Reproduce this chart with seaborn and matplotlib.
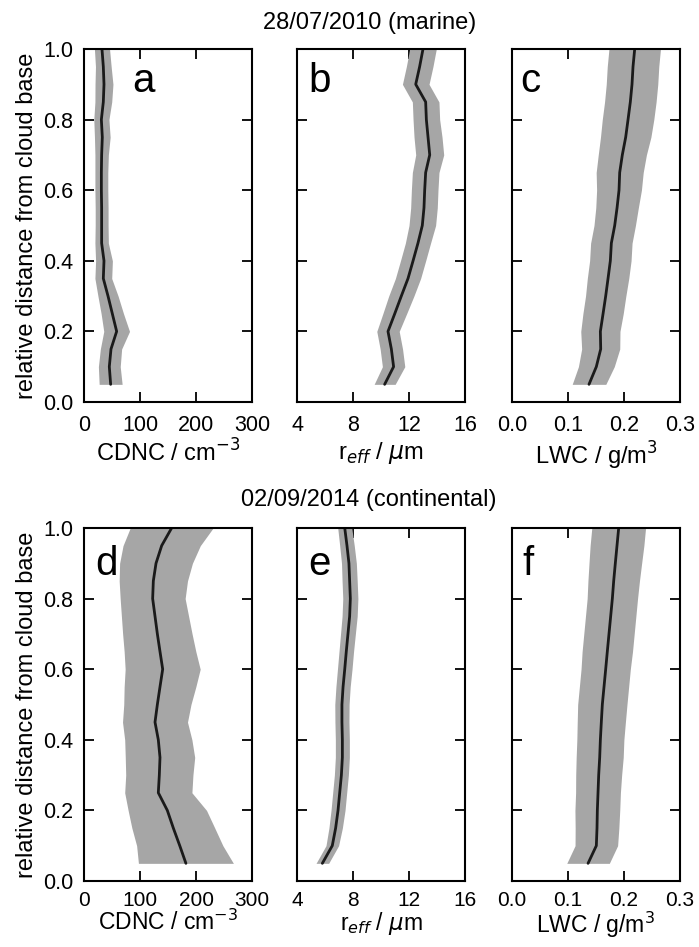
import numpy as np
import pandas as pd
import matplotlib
matplotlib.use("Agg")
import matplotlib.pyplot as plt
import seaborn as sns

# ---------------- data ----------------
height = [0.05, 0.10, 0.15, 0.20, 0.25, 0.30, 0.35, 0.40, 0.45, 0.50,
          0.55, 0.60, 0.65, 0.70, 0.75, 0.80, 0.85, 0.90, 0.95, 1.00]

# 28/07/2010 (marine)
cdnc_marine = [47.6, 45.2, 48.2, 58.3, 50.6, 42.9, 34.5, 35.7, 31.5, 31.5,
               31.5, 31.0, 31.0, 31.5, 32.7, 31.0, 34.5, 35.7, 34.5, 32.1]
cdnc_marine_sd = [20.5, 19.5, 19.0, 23.0, 20.0, 18.0, 15.0, 15.0, 12.0, 11.5,
                  11.5, 11.5, 11.5, 12.0, 14.0, 13.5, 15.0, 16.0, 14.0, 13.5]
reff_marine = [10.26, 10.90, 10.74, 10.50, 10.98, 11.45, 11.93, 12.29, 12.64, 12.95,
               13.07, 13.12, 13.19, 13.48, 13.36, 13.24, 13.19, 12.48, 12.76, 13.00]
reff_marine_sd = [0.75, 0.80, 0.80, 0.80, 0.85, 0.90, 0.90, 0.90, 0.90, 0.95,
                  0.95, 0.95, 0.95, 1.00, 1.00, 0.95, 0.95, 0.95, 0.95, 0.95]
lwc_marine = [0.1375, 0.1506, 0.1584, 0.1578, 0.1626, 0.1673, 0.1715, 0.1756, 0.1774, 0.1834,
              0.1876, 0.1911, 0.1923, 0.1970, 0.2030, 0.2072, 0.2113, 0.2143, 0.2161, 0.2191]
lwc_marine_sd = [0.030, 0.032, 0.034, 0.035, 0.036, 0.036, 0.037, 0.037, 0.037, 0.037,
                 0.038, 0.040, 0.042, 0.043, 0.045, 0.046, 0.046, 0.046, 0.046, 0.046]

# 02/09/2014 (continental)
cdnc_cont = [182.0, 171.0, 159.5, 148.8, 132.7, 134.5, 135.7, 132.7, 126.8, 131.0,
             135.7, 140.5, 135.7, 131.0, 126.8, 122.6, 123.8, 128.6, 138.7, 156.5]
cdnc_cont_sd = [84.8, 77.0, 74.0, 70.0, 60.0, 60.0, 62.0, 60.0, 58.0, 60.0,
                64.0, 67.0, 64.0, 62.0, 60.0, 58.0, 61.0, 65.0, 69.0, 74.0]
reff_cont = [5.81, 6.52, 6.76, 6.93, 7.05, 7.17, 7.24, 7.24, 7.21, 7.21,
             7.29, 7.41, 7.52, 7.64, 7.76, 7.81, 7.76, 7.71, 7.57, 7.41]
reff_cont_sd = [0.45, 0.45, 0.48, 0.50, 0.50, 0.50, 0.50, 0.50, 0.50, 0.51,
                0.51, 0.52, 0.52, 0.53, 0.54, 0.54, 0.54, 0.53, 0.52, 0.50]
lwc_cont = [0.1358, 0.1506, 0.1518, 0.1524, 0.1536, 0.1548, 0.1566, 0.1578, 0.1595, 0.1613,
            0.1643, 0.1673, 0.1702, 0.1732, 0.1762, 0.1792, 0.1816, 0.1845, 0.1875, 0.1905]
lwc_cont_sd = [0.038, 0.038, 0.039, 0.040, 0.040, 0.041, 0.042, 0.042, 0.043, 0.044,
               0.044, 0.044, 0.045, 0.045, 0.045, 0.045, 0.046, 0.047, 0.048, 0.048]

row_titles = ["28/07/2010 (marine)", "02/09/2014 (continental)"]
panel_letters = [["a", "b", "c"], ["d", "e", "f"]]
x_labels = ["CDNC / cm$^{-3}$", "r$_{eff}$ / $\\mu$m", "LWC / g/m$^3$"]
x_limits = [(0, 300), (4, 16), (0.0, 0.3)]
x_ticks = [[0, 100, 200, 300], [4, 8, 12, 16], [0.0, 0.1, 0.2, 0.3]]
x_ticklabels = [["0", "100", "200", "300"], ["4", "8", "12", "16"],
                ["0.0", "0.1", "0.2", "0.3"]]
y_ticks = [0.0, 0.2, 0.4, 0.6, 0.8, 1.0]
y_ticklabels = ["0.0", "0.2", "0.4", "0.6", "0.8", "1.0"]
y_label = "relative distance from cloud base"

means = [[cdnc_marine, reff_marine, lwc_marine], [cdnc_cont, reff_cont, lwc_cont]]
sds = [[cdnc_marine_sd, reff_marine_sd, lwc_marine_sd],
       [cdnc_cont_sd, reff_cont_sd, lwc_cont_sd]]

# ---------------- style ----------------
sns.set_style("ticks")
plt.rcParams["font.family"] = ["Liberation Sans", "DejaVu Sans"]
plt.rcParams["mathtext.fontset"] = "dejavusans"
plt.rcParams["axes.linewidth"] = 1.5
plt.rcParams["text.color"] = "black"
plt.rcParams["axes.labelcolor"] = "black"
plt.rcParams["xtick.color"] = "black"
plt.rcParams["ytick.color"] = "black"
plt.rcParams["axes.edgecolor"] = "black"

fig = plt.figure(figsize=(6.99, 9.47), dpi=100)
W, H = 699.0, 947.0
lefts = [84, 297, 512]
tops = [49, 528]
aw, ah = 168, 353

letter_x = [[0.29, 0.065, 0.05], [0.065, 0.065, 0.06]]
letter_y = [0.878, 0.867]

tick_fs = [15.5, 15]
label_fs = [17, 16.5]
tick_pad = [9, 7]
label_pad = [3, 0]
for r in range(2):
    for c in range(3):
        ax = fig.add_axes([lefts[c] / W, 1 - (tops[r] + ah) / H, aw / W, ah / H])
        df = pd.DataFrame({"value": means[r][c], "sd": sds[r][c], "height": height})
        lo = df["value"] - df["sd"]
        hi = df["value"] + df["sd"]
        ax.fill_betweenx(df["height"], lo, hi, color="#a6a6a6", linewidth=0, zorder=1)
        sns.lineplot(data=df, x="value", y="height", orient="y", sort=False,
                     color="#1a1a1a", linewidth=2.0, ax=ax, zorder=2)
        ax.set_xlim(*x_limits[c])
        ax.set_ylim(0, 1)
        ax.set_xticks(x_ticks[c])
        ax.set_xticklabels(x_ticklabels[c])
        ax.set_yticks(y_ticks)
        if c == 0:
            ax.set_yticklabels(y_ticklabels)
            ax.set_ylabel(y_label, fontsize=17, labelpad=3)
        else:
            ax.set_yticklabels([])
            ax.set_ylabel("")
        ax.set_xlabel(x_labels[c], fontsize=label_fs[r], labelpad=label_pad[r])
        ax.tick_params(direction="in", top=True, right=True, length=7, width=1.3,
                       labelsize=tick_fs[r])
        ax.tick_params(axis="x", pad=tick_pad[r])
        ax.tick_params(axis="y", pad=8, labelsize=15.5)
        for s in ax.spines.values():
            s.set_visible(True)
        ax.text(letter_x[r][c], letter_y[r], panel_letters[r][c], transform=ax.transAxes,
                fontsize=29, ha="left", va="baseline")

fig.text(370 / W, 1 - 23.5 / H, row_titles[0], ha="center", va="center", fontsize=17)
fig.text(369 / W, 1 - 500 / H, row_titles[1], ha="center", va="center", fontsize=17)

fig.savefig("out.png", dpi=100)
